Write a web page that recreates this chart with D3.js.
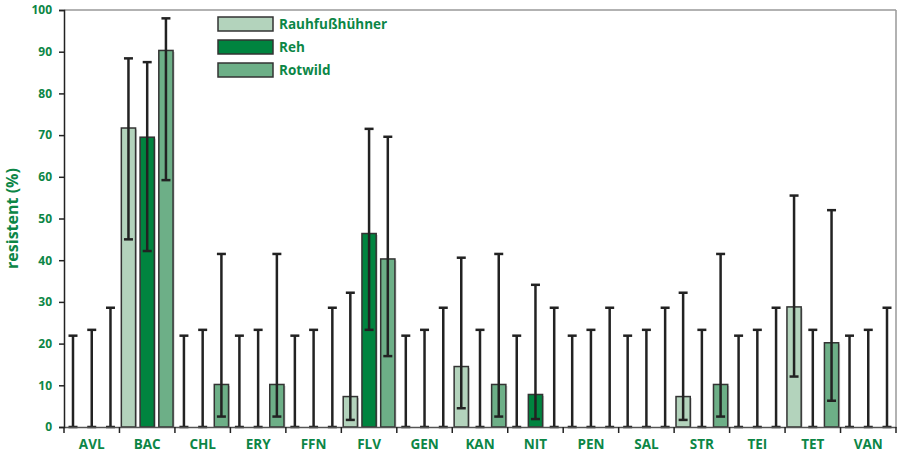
<!DOCTYPE html>
<html>
<head>
<meta charset="utf-8">
<script src="https://cdn.jsdelivr.net/npm/d3@7"></script>
<style>
  body { margin: 0; background: #fff; }
  text { font-family: "Open Sans", sans-serif; font-weight: bold; fill: #0c8646; }
</style>
</head>
<body>
<div id="graph"></div>
<script>
"use strict";

// Daten
const categories = ["AVL", "BAC", "CHL", "ERY", "FFN", "FLV", "GEN", "KAN", "NIT", "PEN", "SAL", "STR", "TEI", "TET", "VAN"];
const seriesNames = ["Rauhfußhühner", "Reh", "Rotwild"];
const seriesColors = ["#b3d3bc", "#00843f", "#6daf87"];

const rauhValues = [0, 71.7, 0, 0, 0, 7.3, 0, 14.5, 0, 0, 0, 7.3, 0, 28.8, 0];
const rauhLow    = [0, 45.0, 0, 0, 0, 1.7, 0, 4.5, 0, 0, 0, 1.7, 0, 12.1, 0];
const rauhHigh   = [21.9, 88.4, 21.9, 21.9, 21.9, 32.2, 21.9, 40.6, 21.9, 21.9, 21.9, 32.2, 21.9, 55.5, 21.9];

const rehValues = [0, 69.5, 0, 0, 0, 46.4, 0, 0, 7.8, 0, 0, 0, 0, 0, 0];
const rehLow    = [0, 42.2, 0, 0, 0, 23.3, 0, 0, 1.9, 0, 0, 0, 0, 0, 0];
const rehHigh   = [23.3, 87.5, 23.3, 23.3, 23.3, 71.5, 23.3, 23.3, 34.1, 23.3, 23.3, 23.3, 23.3, 23.3, 23.3];

const rotValues = [0, 90.3, 10.2, 10.2, 0, 40.3, 0, 10.2, 0, 0, 0, 10.2, 0, 20.2, 0];
const rotLow    = [0, 59.2, 2.5, 2.5, 0, 17.0, 0, 2.5, 0, 0, 0, 2.5, 0, 6.3, 0];
const rotHigh   = [28.6, 98.0, 41.5, 41.5, 28.6, 69.6, 28.6, 41.5, 28.6, 28.6, 28.6, 41.5, 28.6, 52.0, 28.6];

const yTicks = [0, 10, 20, 30, 40, 50, 60, 70, 80, 90, 100];

const series = [
    { name: seriesNames[0], values: rauhValues, low: rauhLow, high: rauhHigh, color: seriesColors[0] },
    { name: seriesNames[1], values: rehValues, low: rehLow, high: rehHigh, color: seriesColors[1] },
    { name: seriesNames[2], values: rotValues, low: rotLow, high: rotHigh, color: seriesColors[2] }
];

const svgWidth = 901;
const svgHeight = 454;
const margin = { top: 10, right: 5, bottom: 27, left: 64 };
const width = svgWidth - margin.left - margin.right;
const height = svgHeight - margin.top - margin.bottom;

const svg = d3.select("#graph")
    .append("svg")
    .attr("width", svgWidth)
    .attr("height", svgHeight)
    .append("g")
    .attr("transform", "translate(" + margin.left + "," + margin.top + ")");

const xScale = d3.scaleBand()
    .domain(categories)
    .range([0, width])
    .padding(0);

const xInner = d3.scaleBand()
    .domain(d3.range(series.length))
    .range([0, xScale.bandwidth()])
    .paddingInner(0.24)
    .paddingOuter(0.1);

const yScale = d3.scaleLinear()
    .domain([0, 100])
    .range([height, 0]);

// Rahmen oben und rechts
svg.append("line")
    .attr("x1", 0).attr("x2", width)
    .attr("y1", 0).attr("y2", 0)
    .attr("stroke", "#999").attr("stroke-width", 1.5);
svg.append("line")
    .attr("x1", width).attr("x2", width)
    .attr("y1", 0).attr("y2", height)
    .attr("stroke", "#999").attr("stroke-width", 1.5);

// Balken
const rows = [];
series.forEach((s, si) => {
    categories.forEach((c, ci) => {
        rows.push({ cat: c, si: si, value: s.values[ci], low: s.low[ci], high: s.high[ci], color: s.color });
    });
});

const barRows = rows.filter(d => d.value > 0);

svg.selectAll(".shadow")
    .data(barRows)
    .enter().append("rect")
    .attr("class", "shadow")
    .attr("x", d => xScale(d.cat) + xInner(d.si) + 1.5)
    .attr("y", d => yScale(d.value) + 1.5)
    .attr("width", xInner.bandwidth())
    .attr("height", d => height - yScale(d.value) - 1.5)
    .attr("fill", "#ccc");

svg.selectAll(".bar")
    .data(barRows)
    .enter().append("rect")
    .attr("class", "bar")
    .attr("x", d => xScale(d.cat) + xInner(d.si))
    .attr("y", d => yScale(d.value))
    .attr("width", xInner.bandwidth())
    .attr("height", d => height - yScale(d.value))
    .attr("fill", d => d.color)
    .attr("stroke", "#333")
    .attr("stroke-width", 1.5);

// Fehlerbalken
const capW = 4.5;
const err = svg.selectAll(".err")
    .data(rows)
    .enter().append("g")
    .attr("class", "err")
    .attr("transform", d => "translate(" + (xScale(d.cat) + xInner(d.si) + xInner.bandwidth() / 2) + ",0)")
    .attr("stroke", "#222")
    .attr("stroke-width", 2.5);

err.append("line")
    .attr("x1", 0).attr("x2", 0)
    .attr("y1", d => yScale(d.low))
    .attr("y2", d => yScale(d.high));
err.append("line")
    .attr("x1", -capW).attr("x2", capW)
    .attr("y1", d => yScale(d.high))
    .attr("y2", d => yScale(d.high));
err.append("line")
    .attr("x1", -capW).attr("x2", capW)
    .attr("y1", d => yScale(d.low))
    .attr("y2", d => yScale(d.low));

// Achsen
const xAxis = svg.append("g")
    .attr("transform", "translate(0," + height + ")")
    .call(d3.axisBottom(xScale).tickSize(0).tickPadding(12));
xAxis.select(".domain").attr("stroke", "#555").attr("stroke-width", 1.5);
xAxis.selectAll("text")
    .attr("font-size", 13.5)
    .attr("font-family", "Open Sans")
    .attr("fill", "#0c8646");

xAxis.selectAll(".sep")
    .data(d3.range(categories.length + 1))
    .enter().append("line")
    .attr("class", "sep")
    .attr("x1", i => i * xScale.step())
    .attr("x2", i => i * xScale.step())
    .attr("y1", 0).attr("y2", 6)
    .attr("stroke", "#222").attr("stroke-width", 1.5);

const yAxis = svg.append("g")
    .call(d3.axisLeft(yScale).tickValues(yTicks).tickSize(5).tickPadding(7));
yAxis.select(".domain").attr("stroke", "#222").attr("stroke-width", 1.5);
yAxis.selectAll(".tick line").attr("stroke", "#222").attr("stroke-width", 1.5);
yAxis.selectAll("text")
    .attr("font-size", 12)
    .attr("font-family", "Open Sans")
    .attr("fill", "#0c8646");

svg.append("text")
    .attr("transform", "translate(" + (-46) + "," + (height / 2) + ") rotate(-90)")
    .attr("text-anchor", "middle")
    .attr("font-size", 16)
    .text("resistent (%)");

// Legende
const legend = svg.selectAll(".legend")
    .data(series)
    .enter().append("g")
    .attr("class", "legend")
    .attr("transform", (d, i) => "translate(" + (218 - margin.left) + "," + (17 - margin.top + i * 23) + ")");

legend.append("rect")
    .attr("width", 55)
    .attr("height", 14)
    .attr("fill", d => d.color)
    .attr("stroke", "#333")
    .attr("stroke-width", 1.5);

legend.append("text")
    .attr("x", 61)
    .attr("y", 12)
    .attr("font-size", 13.5)
    .text(d => d.name);
</script>
</body>
</html>
